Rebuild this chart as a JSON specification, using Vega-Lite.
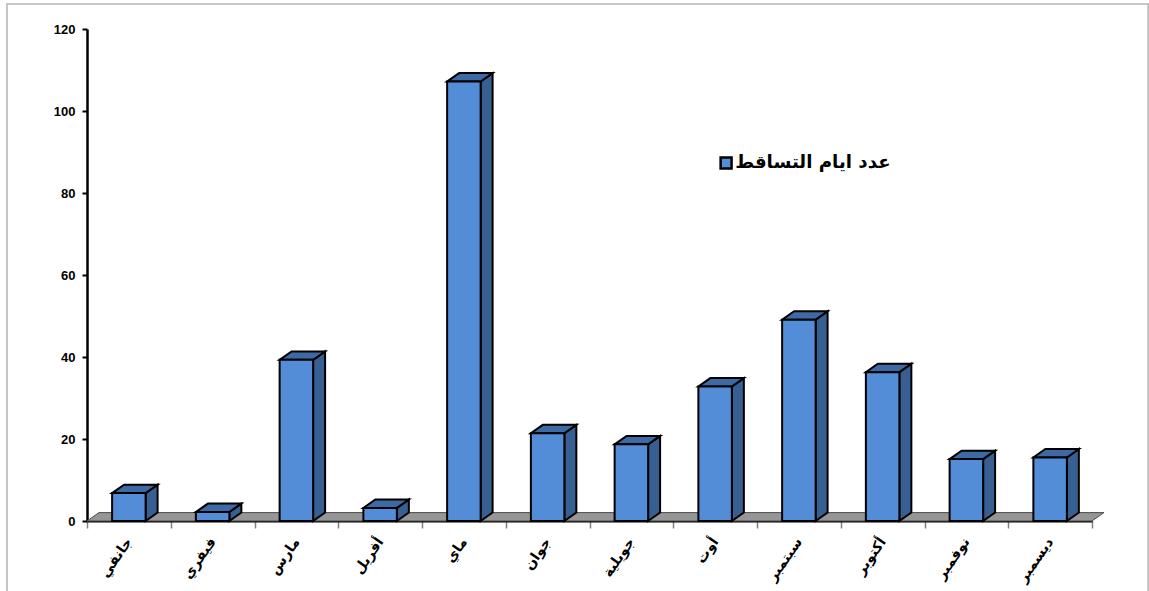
{
  "$schema": "https://vega.github.io/schema/vega-lite/v6.json",
  "width": 1005,
  "height": 492,
  "autosize": {"type": "none"},
  "padding": {"left": 87, "top": 29, "right": 57, "bottom": 70},
  "background": "#ffffff",
  "config": {
    "view": {"stroke": null},
    "font": "Liberation Sans"
  },
  "datasets": {
    "rain": [
      {"month": "جانفي", "days": 6.8},
      {"month": "فيفري", "days": 2.2},
      {"month": "مارس", "days": 39.3},
      {"month": "أفريل", "days": 3.2},
      {"month": "ماي", "days": 107.2},
      {"month": "جوان", "days": 21.4},
      {"month": "جويلية", "days": 18.7},
      {"month": "أوت", "days": 32.8},
      {"month": "سبتمبر", "days": 49.1},
      {"month": "أكتوبر", "days": 36.3},
      {"month": "نوفمبر", "days": 15.1},
      {"month": "ديسمبر", "days": 15.5}
    ]
  },
  "resolve": {"scale": {"x": "independent"}},
  "layer": [
    {
      "description": "Outer chart frame",
      "data": {"values": [{}]},
      "mark": {"type": "rect", "fill": null, "stroke": "#b4b4b4", "strokeWidth": 1.5},
      "encoding": {
        "x": {"datum": -0.955, "type": "quantitative", "scale": {"domain": [0, 12], "nice": false}, "axis": null},
        "x2": {"datum": 12.67},
        "y": {"datum": 126.1, "type": "quantitative", "scale": {"domain": [0, 120], "nice": false}},
        "y2": {"datum": -30}
      }
    },
    {
      "description": "Grey floor of the 3D plot",
      "data": {"values": [{}]},
      "transform": [
        {"calculate": "[0, 1, 2, 3]", "as": "corner"},
        {"flatten": ["corner"]},
        {"calculate": "datum.corner == 0 ? 0 : datum.corner == 1 ? 0.143 : datum.corner == 2 ? 12 : 12.143", "as": "px"},
        {"calculate": "datum.corner == 3 ? 2.05 : 0", "as": "py"},
        {"calculate": "datum.corner == 0 ? 0 : 2.05", "as": "py2"}
      ],
      "mark": {"type": "area", "fill": "#969696", "stroke": "#4d4d4d", "strokeWidth": 1},
      "encoding": {
        "x": {"field": "px", "type": "quantitative", "scale": {"domain": [0, 12], "nice": false}, "axis": null},
        "y": {"field": "py", "type": "quantitative", "scale": {"domain": [0, 120], "nice": false}, "title": null},
        "y2": {"field": "py2"}
      }
    },
    {
      "description": "Right-hand side face of each column",
      "data": {"name": "rain"},
      "transform": [
        {"window": [{"op": "row_number", "as": "n"}]},
        {"calculate": "[0, 1]", "as": "corner"},
        {"flatten": ["corner"]},
        {"calculate": "datum.n - 1 + 0.7 + datum.corner * 0.143", "as": "px"},
        {"calculate": "datum.corner * 2.05", "as": "py"},
        {"calculate": "datum.days + datum.corner * 2.05", "as": "py2"}
      ],
      "mark": {"type": "area", "fill": "#375F92", "stroke": "#000000", "strokeWidth": 2},
      "encoding": {
        "x": {"field": "px", "type": "quantitative", "scale": {"domain": [0, 12], "nice": false}, "axis": null},
        "y": {"field": "py", "type": "quantitative", "scale": {"domain": [0, 120], "nice": false}},
        "y2": {"field": "py2"},
        "detail": {"field": "month"}
      }
    },
    {
      "description": "Top face of each column",
      "data": {"name": "rain"},
      "transform": [
        {"window": [{"op": "row_number", "as": "n"}]},
        {"calculate": "[0, 1, 2, 3]", "as": "corner"},
        {"flatten": ["corner"]},
        {"calculate": "datum.n - 1 + (datum.corner == 0 ? 0.3 : datum.corner == 1 ? 0.443 : datum.corner == 2 ? 0.7 : 0.843)", "as": "px"},
        {"calculate": "datum.days + (datum.corner == 3 ? 2.05 : 0)", "as": "py"},
        {"calculate": "datum.days + (datum.corner == 0 ? 0 : 2.05)", "as": "py2"}
      ],
      "mark": {"type": "area", "fill": "#3D6AA5", "stroke": "#000000", "strokeWidth": 2},
      "encoding": {
        "x": {"field": "px", "type": "quantitative", "scale": {"domain": [0, 12], "nice": false}, "axis": null},
        "y": {"field": "py", "type": "quantitative", "scale": {"domain": [0, 120], "nice": false}},
        "y2": {"field": "py2"},
        "detail": {"field": "month"}
      }
    },
    {
      "description": "Front face of each column, with the axes and legend",
      "data": {"name": "rain"},
      "mark": {"type": "bar", "width": {"band": 0.4}, "stroke": "#000000", "strokeWidth": 2},
      "encoding": {
        "x": {
          "field": "month",
          "type": "nominal",
          "sort": null,
          "title": null,
          "scale": {"padding": 0},
          "axis": {
            "tickBand": "extent",
            "labelAngle": -55,
            "labelAlign": "right",
            "labelBaseline": "middle",
            "labelFont": "DejaVu Sans",
            "labelFontWeight": "bold",
            "labelFontSize": 14,
            "labelColor": "#000000",
            "labelPadding": 11,
            "labelOverlap": false,
            "labelBound": false,
            "tickColor": "#808080",
            "tickSize": 7,
            "tickWidth": 1.5,
            "domainColor": "#000000",
            "domainWidth": 2,
            "zindex": 0
          }
        },
        "y": {
          "field": "days",
          "type": "quantitative",
          "title": null,
          "scale": {"domain": [0, 120], "nice": false},
          "axis": {
            "values": [0, 20, 40, 60, 80, 100, 120],
            "grid": false,
            "labelFont": "Liberation Sans",
            "labelFontWeight": "bold",
            "labelFontSize": 13,
            "labelColor": "#000000",
            "labelPadding": 7,
            "tickColor": "#000000",
            "tickSize": 5,
            "tickWidth": 2,
            "domainColor": "#000000",
            "domainWidth": 2.5
          }
        },
        "color": {
          "datum": "عدد ايام التساقط",
          "scale": {"range": ["#538DD8"]},
          "legend": {
            "title": null,
            "orient": "none",
            "legendX": 630,
            "legendY": 125,
            "symbolType": "square",
            "symbolSize": 120,
            "symbolStrokeColor": "#000000",
            "symbolStrokeWidth": 2.5,
            "labelFont": "DejaVu Sans",
            "labelFontWeight": "bold",
            "labelFontSize": 18.2,
            "labelColor": "#000000",
            "labelLimit": 300,
            "labelOffset": 0
          }
        }
      }
    }
  ]
}
